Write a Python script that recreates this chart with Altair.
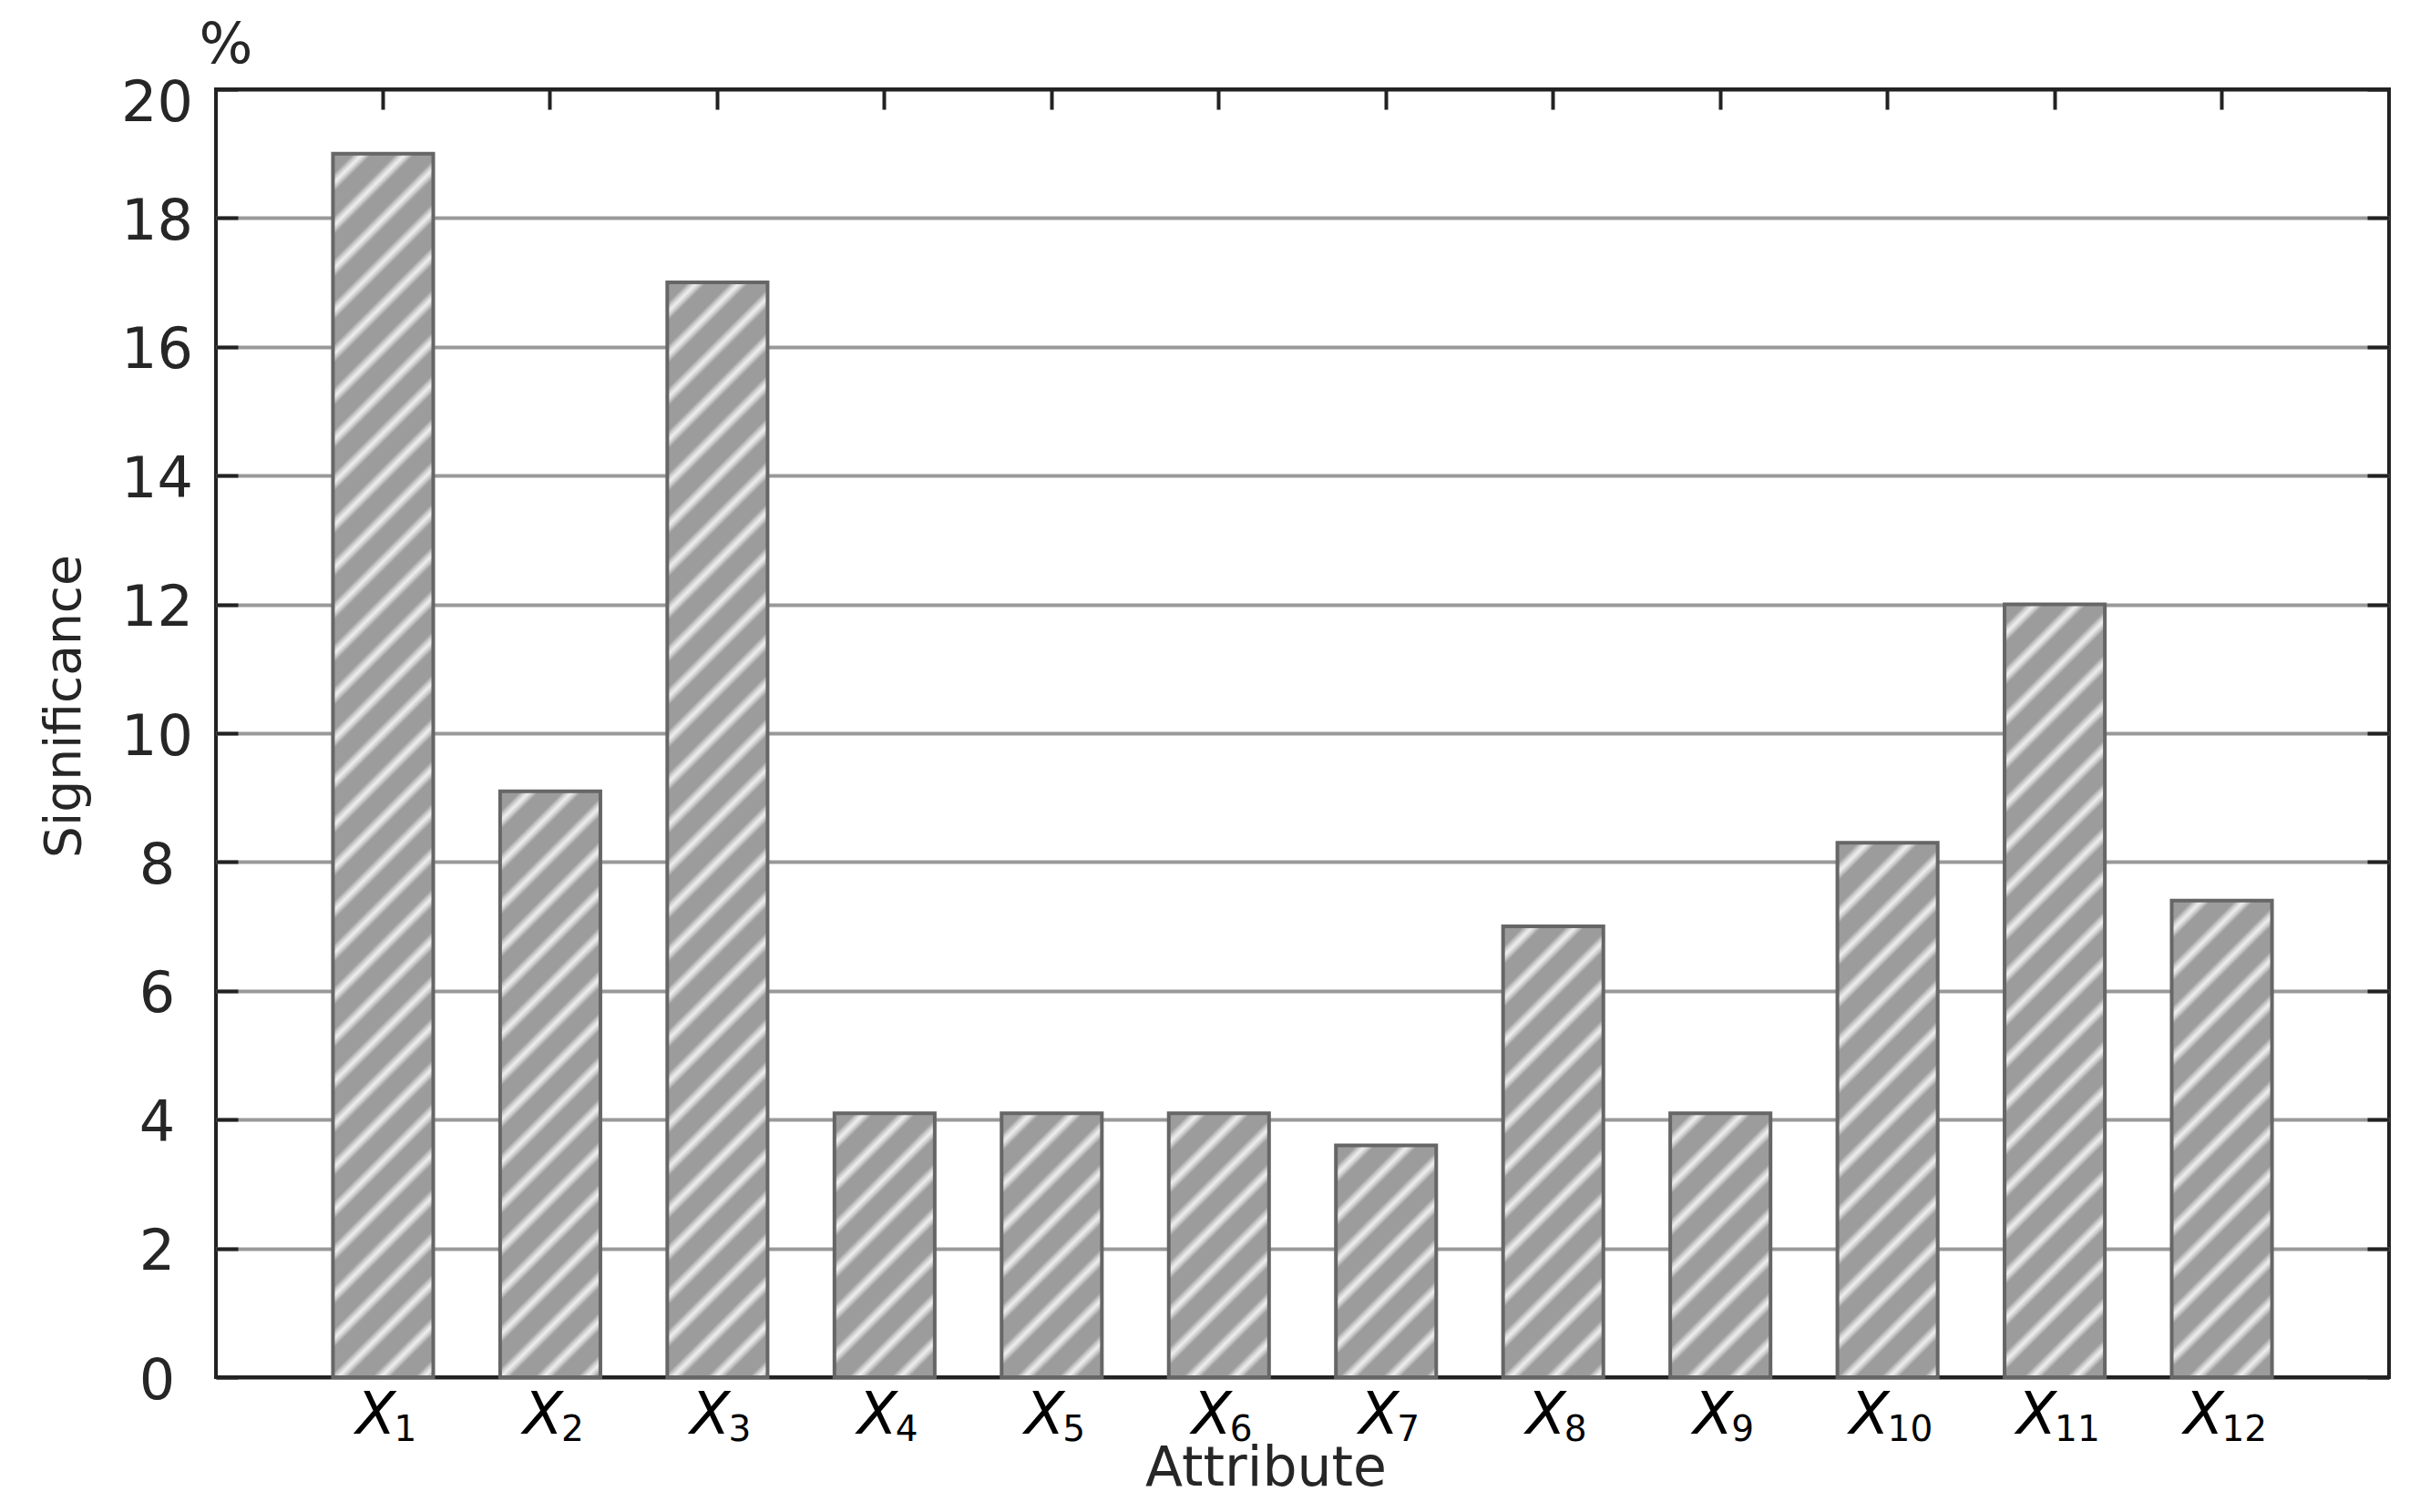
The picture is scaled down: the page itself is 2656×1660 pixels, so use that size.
import altair as alt
import pandas as pd

# ---- data -------------------------------------------------------------
attributes = ["X1", "X2", "X3", "X4", "X5", "X6", "X7", "X8", "X9", "X10", "X11", "X12"]
significance = [19.0, 9.1, 17.0, 4.1, 4.1, 4.1, 3.6, 7.0, 4.1, 8.3, 12.0, 7.4]
y_ticks = [0, 2, 4, 6, 8, 10, 12, 14, 16, 18, 20]

df = pd.DataFrame({"attr": attributes, "value": significance})

# ---- layout ------------------------------------------------------------
W, H = 2385, 1414
Y_MAX = 20
PAD_INNER, PAD_OUTER = 0.4, 0.7
FONT = "DejaVu Sans"
TEXT = "#262626"

x_scale = alt.Scale(domain=attributes, paddingInner=PAD_INNER, paddingOuter=PAD_OUTER)
y_scale = alt.Scale(domain=[0, Y_MAX], nice=False, zero=True)

step = W / (len(attributes) - PAD_INNER + 2 * PAD_OUTER)
bar_w = step * (1 - PAD_INNER)


def stripe_fill(v):
    """Diagonal hatch (45 deg, '/' stripes) built as a repeating linear gradient."""
    bh = v / Y_MAX * H
    span = bar_w + bh
    a, b = bar_w / span, bh / span
    s = a * a + b * b
    n = span / 47.0
    base, light, hi = "#9c9c9c", "#d0d0d0", "#eeeeee"
    profile = [(0.0, base), (0.48, base), (0.60, light), (0.70, hi), (0.80, light), (0.92, base)]
    stops = []
    k = 0
    while k < n:
        for f, c in profile:
            off = (k + f) / n
            if off <= 1:
                stops.append({"offset": round(off, 5), "color": c})
        k += 1
    return {"gradient": "linear", "x1": 0, "y1": 0, "x2": a / s, "y2": b / s, "stops": stops}


base = alt.Chart(df)

# bars: one layer per bar so every bar gets its own hatch gradient
bar_layers = []
for name, val in zip(attributes, significance):
    bar_layers.append(
        base.transform_filter(alt.datum.attr == name)
        .mark_bar(fill=stripe_fill(val), stroke="#666666", strokeWidth=4)
        .encode(
            x=alt.X("attr:N", scale=x_scale, axis=None),
            y=alt.Y("value:Q", scale=y_scale, axis=None),
        )
    )

# axis A: "X" part of labels, y labels, grid, y title
axis_a = base.mark_bar(opacity=0).encode(
    x=alt.X(
        "attr:N", scale=x_scale,
        axis=alt.Axis(
            orient="bottom", title=None, labelExpr="'X'", labelFont=FONT,
            labelFontStyle="italic", labelFontSize=64, labelColor="#000000",
            labelAlign="right", labelBaseline="alphabetic", labelPadding=61,
            labelAngle=0,
            labelOffset={"condition": {"test": "length(datum.value) > 2", "value": 2}, "value": 14},
            ticks=False, domain=False, grid=False,
        ),
    ),
    y=alt.Y(
        "value:Q", scale=y_scale,
        axis=alt.Axis(
            orient="left", values=y_ticks, title="Significance", titleFont=FONT,
            titleFontSize=55, titleFontWeight="normal", titleColor=TEXT,
            titleAngle=270, titleAlign="center", titleBaseline="alphabetic",
            titleX=-150, titleY=677,
            labelFont=FONT, labelFontSize=62, labelColor=TEXT, labelAlign="center",
            labelBaseline="middle", labelPadding=65,
            labelOffset={"condition": {"test": "datum.value == 20", "value": 15}, "value": 4},
            ticks=False, domain=False, grid=True, gridWidth=4,
            gridColor={"condition": {"test": "datum.value == 0 || datum.value == 20", "value": "#222222"},
                       "value": "#999999"},
        ),
    ),
)

# axis B: subscript numbers, x title, inward left ticks, "%" unit label
axis_b = base.mark_bar(opacity=0).encode(
    x=alt.X(
        "attr:N", scale=x_scale,
        axis=alt.Axis(
            orient="bottom", title="Attribute", titleFont=FONT, titleFontSize=60,
            titleFontWeight="normal", titleColor=TEXT, titleX=1152, titleY=118,
            titleAlign="center", titleBaseline="alphabetic",
            labelExpr="replace(datum.label, 'X', '')", labelFont=FONT,
            labelFontSize=39, labelColor="#000000", labelAlign="left",
            labelBaseline="alphabetic", labelPadding=69, labelAngle=0,
            labelOffset={"condition": {"test": "length(datum.value) > 2", "value": 0}, "value": 12},
            ticks=False, domain=False, grid=False,
        ),
    ),
    y=alt.Y(
        "value:Q", scale=y_scale,
        axis=alt.Axis(
            orient="left", values=y_ticks, offset=-24, tickSize=24, tickWidth=4,
            tickColor="#222222", labels=False, domain=False, grid=False, zindex=1,
            title="%", titleFont=FONT, titleFontSize=62, titleFontWeight="normal",
            titleColor=TEXT, titleAngle=0, titleAlign="left",
            titleBaseline="alphabetic", titleX=-43, titleY=-30,
        ),
    ),
)

# axis C: inward ticks on top and right edges
axis_c = base.mark_bar(opacity=0).encode(
    x=alt.X(
        "attr:N", scale=x_scale,
        axis=alt.Axis(
            orient="top", offset=-22, tickSize=22, tickWidth=4, tickColor="#222222",
            labels=False, domain=False, grid=False, title=None, zindex=1,
        ),
    ),
    y=alt.Y(
        "value:Q", scale=y_scale,
        axis=alt.Axis(
            orient="right", values=y_ticks, offset=-24, tickSize=24, tickWidth=4,
            tickColor="#222222", labels=False, domain=False, grid=False,
            title=None, zindex=1,
        ),
    ),
)

chart = (
    alt.layer(axis_a, *bar_layers, axis_b, axis_c)
    .resolve_axis(x="independent", y="independent")
    .properties(
        width=W, height=H,
        autosize=alt.AutoSizeParams(type="none"),
        padding={"left": 229, "top": 90, "right": 20, "bottom": 142},
    )
    .configure_view(stroke="#222222", strokeWidth=4)
)

chart.save("out.html", embed_options={"renderer": "svg", "actions": False})
